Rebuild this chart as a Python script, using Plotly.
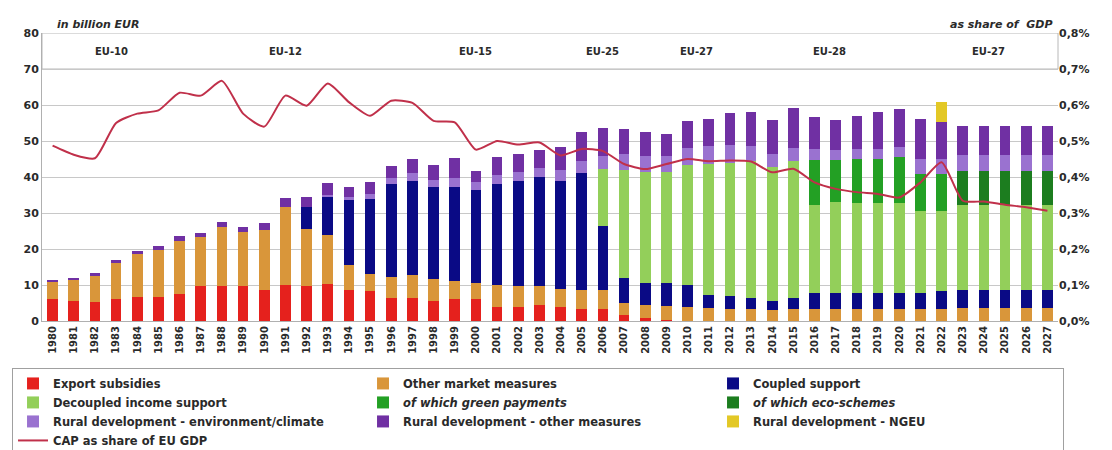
import plotly.graph_objects as go

years = list(range(1980, 2028))

export_subsidies = [6.0, 5.5, 5.3, 6.0, 6.8, 6.7, 7.5, 9.8, 9.8, 9.7, 8.5, 10.0, 9.8, 10.2, 8.5, 8.3,
                    6.5, 6.3, 5.6, 6.0, 6.0, 4.0, 4.0, 4.4, 4.0, 3.2, 3.2, 1.6, 0.7, 0.3, 0.1, 0,
                    0, 0, 0, 0, 0, 0, 0, 0, 0, 0, 0, 0, 0, 0, 0, 0]
other_market = [4.7, 5.9, 7.2, 10.2, 11.7, 13.1, 14.8, 13.5, 16.4, 15.0, 16.9, 21.7, 15.7, 13.7, 7.1, 4.7,
                5.8, 6.5, 6.0, 5.2, 4.6, 6.0, 5.7, 5.3, 4.8, 5.4, 5.4, 3.3, 3.7, 3.9, 3.9, 3.5,
                3.2, 3.2, 3.0, 3.2, 3.2, 3.2, 3.2, 3.2, 3.2, 3.2, 3.2, 3.5, 3.5, 3.5, 3.5, 3.5]
coupled = [0, 0, 0, 0, 0, 0, 0, 0, 0, 0, 0, 0, 6.1, 10.6, 17.9, 20.8,
           25.7, 26.2, 25.6, 26.0, 25.9, 28.1, 29.3, 30.3, 30.2, 32.4, 17.8, 7.0, 6.1, 6.3, 6.0, 3.7,
           3.8, 3.1, 2.6, 3.1, 4.7, 4.7, 4.5, 4.5, 4.7, 4.5, 5.2, 5.1, 5.1, 5.1, 5.1, 5.1]
decoupled = [0, 0, 0, 0, 0, 0, 0, 0, 0, 0, 0, 0, 0, 0, 0, 0,
             0, 0, 0, 0, 0, 0, 0, 0, 0, 0, 15.8, 30.1, 30.8, 30.8, 33.2, 36.4,
             37.0, 38.2, 37.2, 38.2, 24.4, 25.1, 25.1, 25.1, 24.9, 22.8, 22.1, 23.7, 23.7, 23.7, 23.7, 23.7]
green_payments = [0, 0, 0, 0, 0, 0, 0, 0, 0, 0, 0, 0, 0, 0, 0, 0,
                  0, 0, 0, 0, 0, 0, 0, 0, 0, 0, 0, 0, 0, 0, 0, 0,
                  0, 0, 0, 0, 12.3, 11.6, 12.2, 12.2, 12.7, 10.4, 10.4, 0, 0, 0, 0, 0]
eco_schemes = [0, 0, 0, 0, 0, 0, 0, 0, 0, 0, 0, 0, 0, 0, 0, 0,
               0, 0, 0, 0, 0, 0, 0, 0, 0, 0, 0, 0, 0, 0, 0, 0,
               0, 0, 0, 0, 0, 0, 0, 0, 0, 0, 0, 9.5, 9.5, 9.5, 9.5, 9.5]
rd_env = [0, 0, 0, 0, 0, 0, 0, 0, 0, 0, 0, 0, 0, 0.6, 1.0, 1.5,
          1.8, 2.0, 2.0, 2.4, 2.0, 2.4, 2.5, 2.6, 3.0, 3.4, 3.6, 4.5, 4.6, 4.6, 4.8, 4.9,
          5.0, 4.0, 3.6, 3.6, 3.2, 2.8, 2.8, 2.8, 2.8, 4.1, 4.1, 4.2, 4.2, 4.2, 4.2, 4.2]
rd_other = [0.6, 0.6, 0.7, 0.8, 1.0, 1.0, 1.2, 1.2, 1.4, 1.3, 1.8, 2.5, 2.8, 3.1, 2.6, 3.3,
            3.3, 4.0, 4.0, 5.7, 3.3, 5.1, 4.9, 5.0, 6.3, 8.1, 7.8, 6.7, 6.6, 6.1, 7.5, 7.7,
            8.7, 9.5, 9.3, 11.1, 8.8, 8.4, 9.2, 10.2, 10.5, 11.2, 10.3, 8.1, 8.1, 8.1, 8.1, 8.1]
rd_ngeu = [0, 0, 0, 0, 0, 0, 0, 0, 0, 0, 0, 0, 0, 0, 0, 0,
           0, 0, 0, 0, 0, 0, 0, 0, 0, 0, 0, 0, 0, 0, 0, 0,
           0, 0, 0, 0, 0, 0, 0, 0, 0, 0, 5.6, 0, 0, 0, 0, 0]
cap_share_pct = [0.487, 0.462, 0.452, 0.550, 0.576, 0.585, 0.634, 0.626, 0.667, 0.576, 0.540, 0.626,
                 0.598, 0.660, 0.608, 0.570, 0.612, 0.606, 0.556, 0.552, 0.476, 0.500, 0.490, 0.496,
                 0.460, 0.478, 0.472, 0.436, 0.422, 0.436, 0.450, 0.444, 0.446, 0.443, 0.413, 0.423,
                 0.385, 0.367, 0.358, 0.353, 0.343, 0.385, 0.441, 0.334, 0.332, 0.323, 0.316, 0.306]

period_labels = ["EU-10", "EU-12", "EU-15", "EU-25", "EU-27", "EU-28", "EU-27"]
period_centres = [1982.8, 1991.0, 2000.0, 2006.0, 2010.4, 2016.7, 2024.2]

FONT = "DejaVu Sans"
TXT = "#2a2a2a"

bar_series = [
    ("Export subsidies", export_subsidies, "#e5211d"),
    ("Other market measures", other_market, "#d9963a"),
    ("Coupled support", coupled, "#0a0a85"),
    ("Decoupled income support", decoupled, "#93cf5a"),
    ("<i>of which green payments</i>", green_payments, "#23a024"),
    ("<i>of which eco-schemes</i>", eco_schemes, "#1c7d1f"),
    ("Rural development - environment/climate", rd_env, "#9a72d0"),
    ("Rural development - other measures", rd_other, "#7030a3"),
    ("Rural development - NGEU", rd_ngeu, "#e3c826"),
]

fig = go.Figure()
for name, vals, col in bar_series:
    fig.add_trace(go.Bar(x=years, y=vals, name="<b>" + name + "</b>", marker_color=col,
                         marker_line_width=0, width=0.5))

fig.add_trace(go.Scatter(x=years, y=[v / 100 for v in cap_share_pct], yaxis="y2",
                         name="<b>CAP as share of EU GDP</b>", mode="lines",
                         line=dict(color="#c0304a", width=2, shape="spline", smoothing=0.6)))

annotations = []
for lab, cx in zip(period_labels, period_centres):
    annotations.append(dict(x=cx, y=75, xref="x", yref="y", text="<b>" + lab + "</b>",
                            showarrow=False, font=dict(family=FONT, size=10, color=TXT)))
annotations.append(dict(x=0.013, y=1.0, xref="paper", yref="paper", xanchor="left", yanchor="bottom",
                        text="<b><i>in billion EUR</i></b>", showarrow=False,
                        font=dict(family=FONT, size=11, color=TXT)))
annotations.append(dict(x=0.997, y=1.0, xref="paper", yref="paper", xanchor="right", yanchor="bottom",
                        text="<b><i>as share of  GDP</i></b>", showarrow=False,
                        font=dict(family=FONT, size=11, color=TXT)))

fig.update_layout(
    width=1112, height=450,
    margin=dict(l=42, r=54, t=33, b=129, autoexpand=False),
    paper_bgcolor="white", plot_bgcolor="white",
    barmode="stack",
    separators=",.",
    font=dict(family=FONT, size=11, color=TXT),
    xaxis=dict(range=[1979.5, 2027.5], tickmode="array", tickvals=years,
               ticktext=["<b>%d</b>" % y for y in years], tickangle=-90,
               tickfont=dict(family=FONT, size=10, color=TXT), showgrid=False,
               showline=True, linecolor="#b0b0b0", linewidth=1, ticks="", zeroline=False),
    yaxis=dict(range=[0, 80], dtick=10, showgrid=True, gridcolor="#c8c8c8", gridwidth=1,
               showline=True, linecolor="#b0b0b0", tickfont=dict(family=FONT, size=11, color=TXT),
               tickprefix="<b>", ticksuffix="</b>", zeroline=False),
    yaxis2=dict(range=[0, 0.008], dtick=0.001, overlaying="y", side="right", tickformat=".1%",
                showgrid=False, tickfont=dict(family=FONT, size=11, color=TXT),
                tickprefix="<b>", ticksuffix="</b>", zeroline=False, showline=False),
    legend=dict(orientation="h", x=-0.0295, xanchor="left", y=-0.163, yanchor="top",
                traceorder="normal", entrywidth=305, entrywidthmode="pixels",
                bordercolor="#a0a0a0", borderwidth=1, bgcolor="white",
                font=dict(family=FONT, size=11.5, color=TXT), itemwidth=30, tracegroupgap=0),
    annotations=annotations,
    shapes=[dict(type="rect", xref="paper", yref="y", x0=0, x1=1, y0=70, y1=80,
                 line=dict(color="#b8b8b8", width=1), fillcolor="rgba(0,0,0,0)", layer="below")],
    showlegend=True,
)

fig.write_html("out.html", config={"displayModeBar": False},
               post_script="document.body.style.margin='0px';")
